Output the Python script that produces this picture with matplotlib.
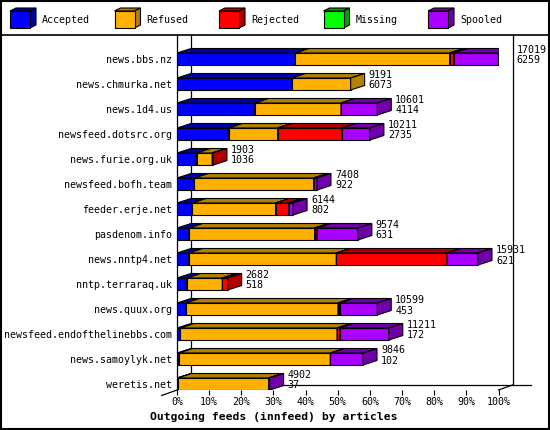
import matplotlib
matplotlib.use("Agg")
import matplotlib.pyplot as plt
from matplotlib.patches import Polygon, Rectangle
import numpy as np

# innfeed outgoing feeds, counts per peer
hosts = ['news.bbs.nz', 'news.chmurka.net', 'news.1d4.us', 'newsfeed.dotsrc.org',
         'news.furie.org.uk', 'newsfeed.bofh.team', 'feeder.erje.net', 'pasdenom.info',
         'news.nntp4.net', 'nntp.terraraq.uk', 'news.quux.org',
         'newsfeed.endofthelinebbs.com', 'news.samoylyk.net', 'weretis.net']
offered = [17019, 9191, 10601, 10211, 1903, 7408, 6144, 9574, 15931, 2682, 10599, 11211, 9846, 4902]
accepted = [6259, 6073, 4114, 2735, 1036, 922, 802, 631, 621, 518, 453, 172, 102, 37]
refused = [8172, 3118, 4567, 2591, 827, 6309, 4418, 6653, 7812, 1880, 8070, 8298, 8013, 4813]
rejected = [209, 0, 0, 3408, 40, 0, 689, 120, 5860, 284, 86, 139, 0, 0]
missing = [0, 0, 0, 0, 0, 0, 0, 0, 0, 0, 0, 0, 0, 0]
spooled = [2379, 0, 1920, 1477, 0, 177, 235, 2170, 1638, 0, 1990, 2602, 1731, 52]

series_names = ['Accepted', 'Refused', 'Rejected', 'Missing', 'Spooled']
series = [accepted, refused, rejected, missing, spooled]
front_colors = ['#0000FF', '#FFB000', '#FF0000', '#00FF00', '#AA00FF']
dark_colors = ['#0000A8', '#B08000', '#B00000', '#00A000', '#7000A8']
ticks = list(range(0, 101, 10))

FONT = 'DejaVu Sans Mono'
fig = plt.figure(figsize=(5.5, 4.3), dpi=100)

# background: frame, legend strip
bg = fig.add_axes([0, 0, 1, 1])
bg.set_xlim(0, 550)
bg.set_ylim(430, 0)
bg.axis('off')
bg.add_patch(Rectangle((0.8, 0.8), 548.4, 428.4, fill=False, lw=1.5, ec='black'))
bg.plot([0, 550], [35, 35], color='black', lw=1.2)
for k, name in enumerate(series_names):
    x0 = 10 + 104.5 * k
    bg.add_patch(Polygon([(x0, 11), (x0 + 6, 8), (x0 + 26, 8), (x0 + 20, 11)],
                         fc=dark_colors[k], ec='black', lw=0.8))
    bg.add_patch(Polygon([(x0 + 20, 11), (x0 + 26, 8), (x0 + 26, 25), (x0 + 20, 28)],
                         fc=dark_colors[k], ec='black', lw=0.8))
    bg.add_patch(Rectangle((x0, 11), 20, 17, fc=front_colors[k], ec='black', lw=0.8))
    bg.text(x0 + 32, 20, name, fontsize=7.2, family=FONT, va='center', ha='left')

# main plot area (pixel 177..498.5 horizontally, 35..390 vertically)
ax = fig.add_axes([177 / 550, 40 / 430, 321.5 / 550, 355 / 430])
ax.patch.set_visible(False)
ax.set_xlim(0, 100)
ax.set_ylim(13.24, -0.96)
for s in ax.spines.values():
    s.set_visible(False)

dxd = 14 * 100 / 321.5   # depth in x units
dyd = 4.5 / 25           # depth in y units
h = 0.48
top_y, floor_front = -0.96, 13.24
floor_back = floor_front - 5 / 25

# walls
lk = dict(color='black', lw=0.9, clip_on=False, zorder=1)
ax.plot([0, 0], [top_y, floor_front], **lk)
ax.plot([dxd, dxd], [top_y, floor_back], **lk)
ax.plot([100 + dxd, 100 + dxd], [top_y, floor_back], **lk)
ax.plot([dxd, 110.2], [floor_back, floor_back], **lk)
ax.plot([-15.3 * 100 / 321.5, dxd], [floor_front + 5.5 / 25, floor_back], **lk)
ax.plot([100, 100 + dxd], [floor_front, floor_back], **lk)

vmax = max(offered)
pos = np.arange(len(hosts))
lefts = np.zeros(len(hosts))
for k, vals in enumerate(series):
    widths = np.array(vals) / vmax * 100
    z = 3 + k
    for i in pos:
        w = widths[i]
        if w <= 0:
            continue
        l = lefts[i]
        y0, y1 = i - h / 2, i + h / 2
        ax.barh(i, w, left=l, height=h, color=front_colors[k], edgecolor='black',
                lw=0.8, zorder=z)
        ax.add_patch(Polygon([(l, y0), (l + w, y0), (l + w + dxd, y0 - dyd), (l + dxd, y0 - dyd)],
                             fc=dark_colors[k], ec='black', lw=0.8, zorder=z))
        ax.add_patch(Polygon([(l + w, y0), (l + w + dxd, y0 - dyd), (l + w + dxd, y1 - dyd), (l + w, y1)],
                             fc=dark_colors[k], ec='black', lw=0.8, zorder=z))
    lefts = lefts + widths

for i in pos:
    xt = offered[i] / vmax * 100 + dxd + 4 * 100 / 321.5
    ax.text(xt, i - 0.36, str(offered[i]), fontsize=7.2, family=FONT,
            va='center', ha='left', zorder=20, clip_on=False)
    ax.text(xt, i + 0.06, str(accepted[i]), fontsize=7.2, family=FONT,
            va='center', ha='left', zorder=20, clip_on=False)

ax.set_yticks(pos)
ax.set_yticklabels(hosts, fontsize=7.2, family=FONT)
ax.tick_params(axis='y', length=0, pad=3.6)
ax.set_xticks(ticks)
ax.set_xticklabels([f'{t}%' for t in ticks], fontsize=7.2, family=FONT)
ax.tick_params(axis='x', direction='out', length=3.6, width=0.8, pad=1.5)

fig.text(274 / 550, 1 - 417 / 430, 'Outgoing feeds (innfeed) by articles',
         fontsize=8.2, family=FONT, fontweight='bold', ha='center', va='center')

fig.savefig('out.png', dpi=100)
